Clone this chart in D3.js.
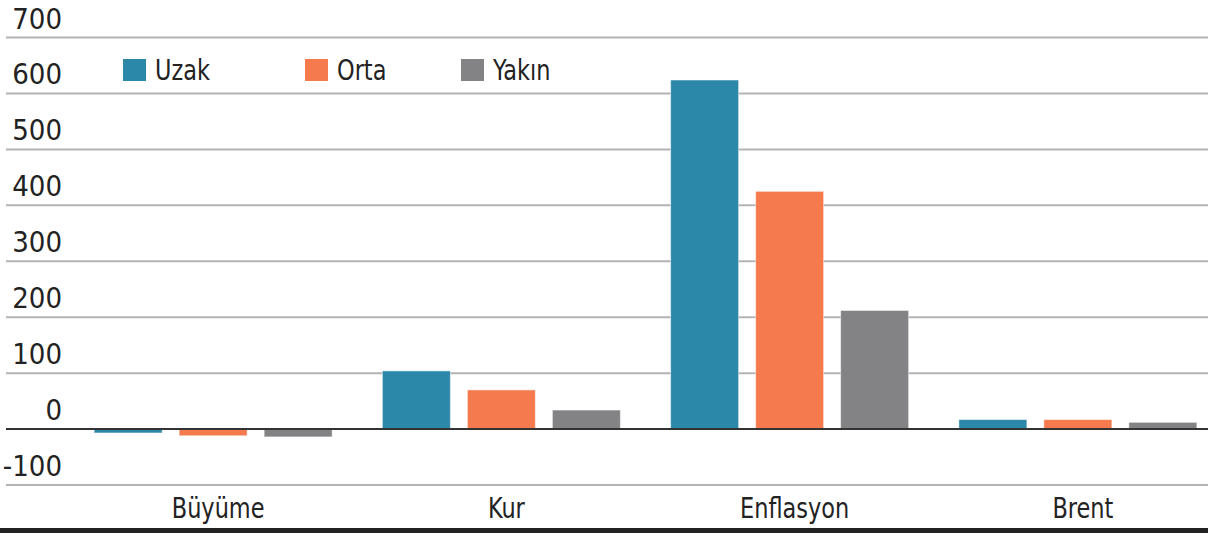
<!DOCTYPE html>
<html>
<head>
<meta charset="utf-8">
<script src="https://cdn.jsdelivr.net/npm/d3@7"></script>
<style>
  body { margin: 0; background: #fff; }
  svg text { font-family: "Liberation Sans Narrow", "Arial Narrow", "DejaVu Sans Condensed", sans-serif; fill: #222; }
</style>
</head>
<body>
<svg id="chart" width="1208" height="533"></svg>
<script>
// data
const categories = ["Büyüme", "Kur", "Enflasyon", "Brent"];
const seriesNames = ["Uzak", "Orta", "Yakın"];
const uzak = [-7, 104, 624, 17];
const orta = [-12, 70, 425, 17];
const yakin = [-14, 34, 212, 12];
const yTicks = [-100, 0, 100, 200, 300, 400, 500, 600, 700];

const seriesValues = [uzak, orta, yakin];
const colors = ["#2b88a8", "#f57b4f", "#838385"];
const legendX = [123, 305, 461];
const squeeze = 0.86; // letters in the original are narrower than DejaVu Condensed

const width = 1208, height = 533;
const svg = d3.select("#chart");

const y = d3.scaleLinear().domain([-100, 700]).range([485, 37.5]);

const x0 = d3.scaleBand().domain(categories).range([69, 1222]).paddingInner(0);
const groupW = 255;
const x1 = d3.scaleBand().domain(seriesNames).range([0, groupW])
    .paddingInner(0.2).paddingOuter(0.1);

// gridlines
svg.append("g")
  .selectAll("line")
  .data(yTicks.filter(d => d !== 0))
  .enter().append("line")
    .attr("x1", 6)
    .attr("x2", width)
    .attr("y1", d => y(d))
    .attr("y2", d => y(d))
    .attr("stroke", "#b3b3b3")
    .attr("stroke-width", 2);

// tick labels
svg.append("g")
  .selectAll("text")
  .data(yTicks)
  .enter().append("text")
    .attr("x", 62)
    .attr("y", d => y(d) - 9)
    .attr("text-anchor", "end")
    .attr("font-size", 29)
    .text(d => d);

// bars
const rows = categories.map((c, i) => ({
  cat: c,
  vals: seriesNames.map((s, j) => ({ name: s, value: seriesValues[j][i], color: colors[j] }))
}));

const group = svg.append("g")
  .selectAll("g")
  .data(rows)
  .enter().append("g")
    .attr("transform", d => "translate(" + (x0(d.cat) + (x0.bandwidth() - groupW) / 2) + ",0)");

group.selectAll("rect")
  .data(d => d.vals)
  .enter().append("rect")
    .attr("x", d => x1(d.name))
    .attr("width", x1.bandwidth())
    .attr("y", d => y(Math.max(0, d.value)))
    .attr("height", d => Math.abs(y(d.value) - y(0)))
    .attr("fill", d => d.color)
    .attr("stroke", "rgba(255,255,255,0.5)")
    .attr("stroke-width", 1);

// zero line
svg.append("line")
    .attr("x1", 6)
    .attr("x2", width)
    .attr("y1", y(0))
    .attr("y2", y(0))
    .attr("stroke", "#333")
    .attr("stroke-width", 2);

// category labels
svg.append("g")
  .selectAll("text")
  .data(categories)
  .enter().append("text")
    .attr("transform", d => "translate(" + (x0(d) + x0.bandwidth() / 2 + 5) + ",518) scale(" + squeeze + ",1)")
    .attr("text-anchor", "middle")
    .attr("font-size", 29)
    .text(d => d);

// bottom rule
svg.append("rect")
    .attr("x", 0)
    .attr("y", 528)
    .attr("width", width)
    .attr("height", 5)
    .attr("fill", "#222");

// legend
const legend = svg.append("g")
  .selectAll("g")
  .data(seriesNames)
  .enter().append("g")
    .attr("transform", (d, i) => "translate(" + legendX[i] + ",59)");

legend.append("rect")
    .attr("width", 23)
    .attr("height", 22)
    .attr("fill", (d, i) => colors[i]);

legend.append("text")
    .attr("transform", "translate(32,21) scale(" + squeeze + ",1)")
    .attr("font-size", 29)
    .text(d => d);
</script>
</body>
</html>
